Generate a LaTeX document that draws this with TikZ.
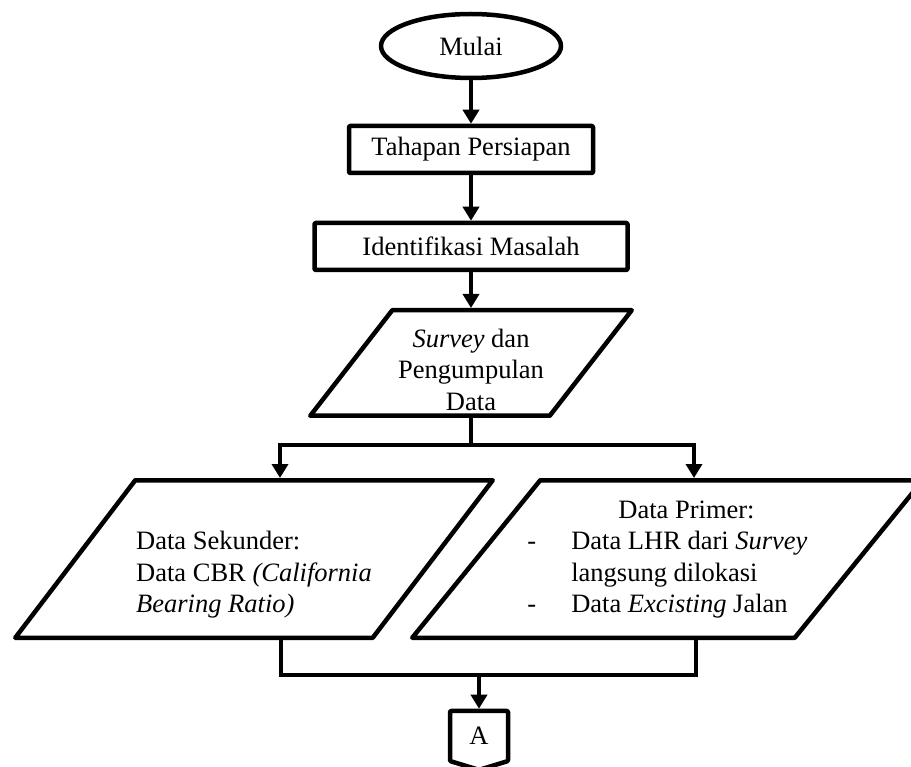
\documentclass[tikz,border=0pt]{standalone}
\usepackage{fontspec}
\setmainfont{Liberation Serif}
\usepackage{tikz}
\usetikzlibrary{positioning,arrows.meta,shapes.geometric,shapes.symbols}

\tikzset{
  box/.style={draw, line width=4.5pt, line join=round, rounded corners=1pt,
    font=\fontsize{26.5}{31.5}\selectfont},
  outline/.style={draw, line width=4.5pt, line join=round},
  % parallelogram drawn inside the node's box, #1 = slant of the sides
  io/.style={font=\fontsize{26.5}{31.5}\selectfont, outer sep=0pt, inner sep=0pt,
    path picture={\draw[outline]
      ([xshift=#1+2.25pt, yshift=-2.25pt]path picture bounding box.north west) --
      ([xshift=-2.25pt, yshift=-2.25pt]path picture bounding box.north east) --
      ([xshift=-#1-2.25pt, yshift=2.25pt]path picture bounding box.south east) --
      ([xshift=2.25pt, yshift=2.25pt]path picture bounding box.south west) -- cycle;}},
  flow/.style={line width=4pt, -{Triangle[length=14pt,width=16pt]}},
  joinline/.style={line width=4pt},
}

\begin{document}
\begin{tikzpicture}[x=1pt, y=-1pt]
\useasboundingbox (0,0) rectangle (911,767);

\node[box, ellipse, minimum width=180pt, minimum height=64pt] (mulai) at (471,46) {Mulai};
\node[box, minimum width=244pt, minimum height=47pt] (tahapan) at (471,149.5) {Tahapan Persiapan};
\node[box, minimum width=313pt, minimum height=47pt] (identifikasi) at (471,246.5) {Identifikasi Masalah};
\node[io=82pt, minimum width=326pt, minimum height=110pt, align=center] (survey) at (471,363)
  {\rule{0pt}{32pt}\textit{Survey} dan\\Pengumpulan\\Data};

\node[io=120pt, minimum width=482pt, minimum height=162pt, align=left] (sekunder) at (254,559)
  {\rule{0pt}{50pt}Data Sekunder:\\Data CBR \textit{(California}\hspace*{8pt}\\\textit{Bearing Ratio)}};
\node[io=128pt, minimum width=515pt, minimum height=162pt] (primer) at (667.5,559)
  {\begin{tabular}{@{}l@{\hspace{35pt}}l@{}}
   \multicolumn{2}{c}{\hspace{38pt}Data Primer:}\\
   - & Data LHR dari \textit{Survey}\\
     & langsung dilokasi\\
   - & Data \textit{Excisting} Jalan
   \end{tabular}};

\node[box, signal, signal to=south, signal pointer angle=146, minimum width=58pt, minimum height=54pt] (konektor) at (479,736) {A};

\coordinate (split) at (471,445);
\coordinate (merge) at (479,675);

\draw[flow] (mulai) -- (tahapan);
\draw[flow] (tahapan) -- (identifikasi);
\draw[flow] (identifikasi) -- (survey);
\draw[joinline] (survey) -- (split);
\draw[flow] (split) -| ([xshift=26pt]sekunder.north);
\draw[flow] (split) -| ([xshift=26.5pt]primer.north);
\draw[joinline] ([xshift=27pt]sekunder.south) |- (merge);
\draw[joinline] ([xshift=28.5pt]primer.south) |- (merge);
\draw[flow] (merge) -- (konektor);

\end{tikzpicture}
\end{document}
